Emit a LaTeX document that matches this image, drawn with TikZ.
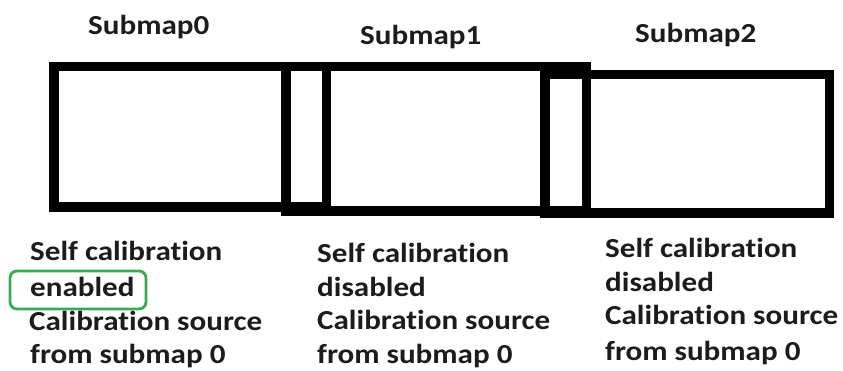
\documentclass[tikz,border=0pt]{standalone}
\usepackage{fontspec}
\setmainfont{Carlito}[FakeStretch=1.13, Ligatures={NoCommon}]
\definecolor{ink}{RGB}{28,28,28}
\definecolor{markgreen}{RGB}{58,170,84}
\tikzset{
  mapbox/.style={draw=black, line width=9.5pt},
  lbl/.style={inner sep=0pt, anchor=base west, text=ink,
    font=\fontsize{27.5}{27.5}\selectfont\bfseries},
  highlight/.style={draw=markgreen, line width=2.8pt, rounded corners=7pt}
}
\begin{document}
\begin{tikzpicture}[x=1pt, y=-1pt]
  \useasboundingbox (0,0) rectangle (843,371);
  \fill[white] (0,0) rectangle (843,371);

  % the three overlapping submap regions
  \draw[mapbox] (53.75,66.75) rectangle (326.25,207.25);
  \draw[mapbox] (285.75,66.75) rectangle (586.25,211.25);
  \draw[mapbox] (544.75,74.75) rectangle (829.25,213.25);

  % titles
  \node[lbl] (t0) at (88,35) {Submap0};
  \node[lbl] (t1) at (360,45) {Submap1};
  \node[lbl] (t2) at (635,43) {Submap2};

  % submap 0 description
  \node[lbl] (a1) at (30,261) {Self calibration};
  \node[lbl] (a2) at (30,296) {enabled};
  \node[lbl] (a3) at (29,330) {Calibration source};
  \node[lbl] (a4) at (30,363) {from submap 0};

  % submap 1 description
  \node[lbl] (b1) at (317,263) {Self calibration};
  \node[lbl] (b2) at (317,297) {disabled};
  \node[lbl] (b3) at (317,329) {Calibration source};
  \node[lbl] (b4) at (317,363) {from submap 0};

  % submap 2 description
  \node[lbl] (c1) at (605,258) {Self calibration};
  \node[lbl] (c2) at (605,291) {disabled};
  \node[lbl] (c3) at (605,324) {Calibration source};
  \node[lbl] (c4) at (605,360) {from submap 0};

  % highlight around "enabled"
  \draw[highlight] (10,271) rectangle (146,309);
\end{tikzpicture}
\end{document}
